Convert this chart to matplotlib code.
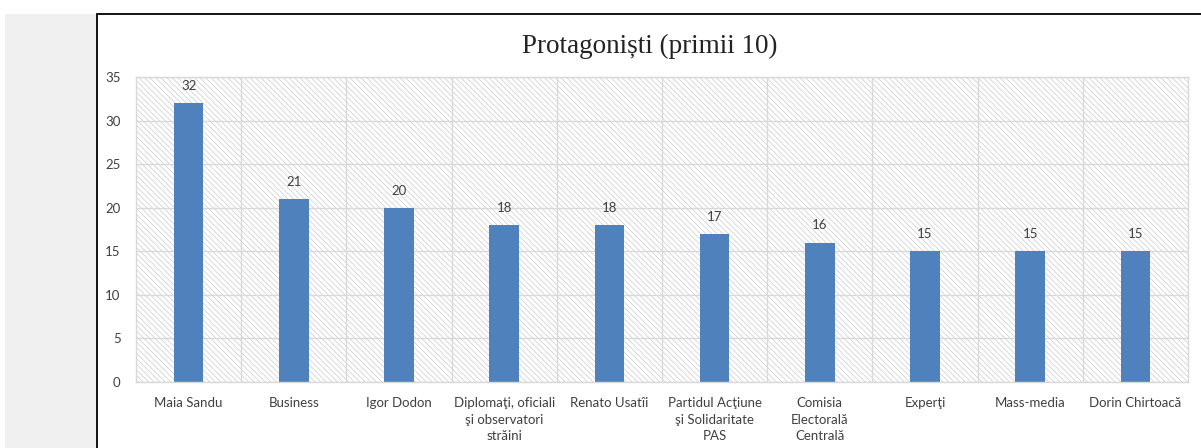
import matplotlib
matplotlib.use("Agg")
import matplotlib.pyplot as plt
from matplotlib.patches import Rectangle

# date grafic
categorii = ["Maia Sandu", "Business", "Igor Dodon",
             "Diplomaţi, oficiali\nşi observatori\nstrăini", "Renato Usatîi",
             "Partidul Acţiune\nşi Solidaritate\nPAS", "Comisia\nElectorală\nCentrală",
             "Experţi", "Mass-media", "Dorin Chirtoacă"]
valori = [32, 21, 20, 18, 18, 17, 16, 15, 15, 15]
y_ticks = [0, 5, 10, 15, 20, 25, 30, 35]
titlu = "Protagoniști (primii 10)"

plt.rcParams["font.family"] = ["Lato", "DejaVu Sans"]
plt.rcParams["hatch.linewidth"] = 0.5
plt.rcParams["hatch.color"] = "#cccccc"

W, H = 1201, 448
fig = plt.figure(figsize=(W / 100, H / 100), dpi=100)
fig.patch.set_facecolor("white")

# fasia gri din stanga + chenarul graficului
fig.add_artist(Rectangle((5 / W, 0), 92 / W, 1 - 14 / H, transform=fig.transFigure,
                         facecolor="#f0f0f0", edgecolor="none", zorder=0))
fig.add_artist(Rectangle((97 / W, -0.1), 1.0, 1.1 - 14 / H, transform=fig.transFigure,
                         facecolor="none", edgecolor="black", lw=1.3, zorder=1))

ax = fig.add_axes([136 / W, 1 - 382 / H, (1188 - 136) / W, (382 - 77) / H])
ax.add_patch(Rectangle((0, 0), 1, 1, transform=ax.transAxes, facecolor="white",
                       edgecolor="#cccccc", hatch="\\\\\\\\\\\\", lw=0, zorder=0.1))

x = list(range(len(categorii)))
bars = ax.bar(x, valori, width=0.28, color="#4f81bd", zorder=2)
for b, v in zip(bars, valori):
    ax.annotate(str(v), (b.get_x() + b.get_width() / 2, v), xytext=(0, 8),
                textcoords="offset points", ha="center", va="bottom", fontsize=9.5,
                color="#404040")

ax.set_xlim(-0.5, len(categorii) - 0.5)
ax.set_ylim(0, 35)
ax.set_yticks(y_ticks)
ax.set_xticks(x)
ax.set_xticklabels(categorii, fontsize=9.5, color="#404040", linespacing=1.45)
ax.tick_params(axis="y", length=0, pad=11, labelsize=9.5, labelcolor="#404040")
ax.tick_params(axis="x", length=0, pad=11)

ax.grid(axis="y", color="#d9d9d9", lw=1)
for i in range(len(categorii) - 1):
    ax.axvline(i + 0.5, color="#d9d9d9", lw=1, zorder=0.5)
ax.set_axisbelow(True)
for s in ax.spines.values():
    s.set_color("#d9d9d9")
    s.set_linewidth(1)

fig.text(650 / W, 1 - 46 / H, titlu, ha="center", va="center", fontsize=19.5,
         family=["Liberation Serif", "DejaVu Serif"], color="#222222")

fig.savefig("out.png", dpi=100)
